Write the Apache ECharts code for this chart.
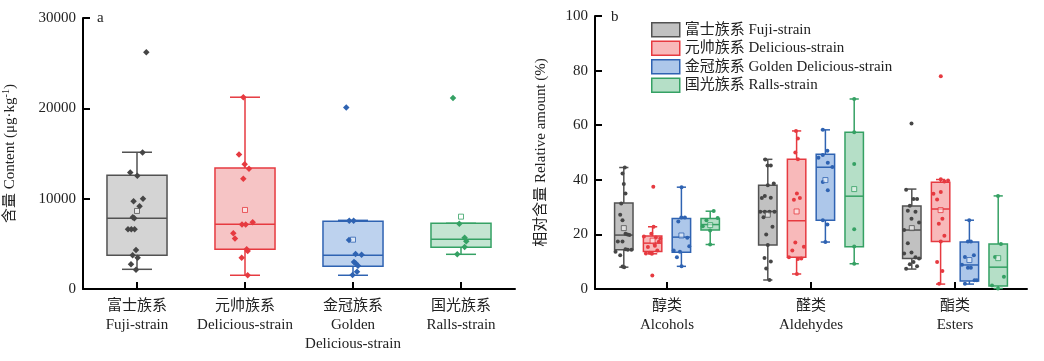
<!DOCTYPE html>
<html><head><meta charset="utf-8">
<script src="https://cdn.jsdelivr.net/npm/echarts@6/dist/echarts.min.js"></script>
<style>html,body{margin:0;padding:0;background:#fff}#c{width:1044px;height:361px}</style>
</head><body><div id="c"></div>
<script>
// ---------- labels ----------
const strainNames = ['富士族系 Fuji-strain', '元帅族系 Delicious-strain', '金冠族系 Golden Delicious-strain', '国光族系 Ralls-strain'];
const strainLabels = ['富士族系\nFuji-strain', '元帅族系\nDelicious-strain', '金冠族系\nGolden\nDelicious-strain', '国光族系\nRalls-strain'];
const classLabels = ['醇类\nAlcohols', '醛类\nAldehydes', '酯类\nEsters'];

// ---------- panel a: content (µg/kg), box = [min, Q1, median, Q3, max] ----------
const contentBox = [
  [2180, 3730, 7830, 12600, 15140],
  [1520, 4400, 7160, 13400, 21230],
  [1520, 2510, 3730, 7500, 7600],
  [3840, 4620, 5500, 7270, 7270]
];
const contentMean = [8640, 8750, 5460, 8010];
const contentPoints = [
  [26200, 15100, 12900, 12550, 10000, 9710, 9160, 7940, 7830, 6610, 6610, 6610, 4320, 3730, 3470, 2730, 2140],
  [21230, 14900, 13800, 13300, 12200, 7380, 7150, 7150, 6180, 5580, 4400, 4200, 3470, 1520],
  [20080, 7560, 7560, 5430, 3880, 3800, 2990, 2850, 2580, 1920, 1550],
  [21150, 7230, 5680, 5280, 4650, 3840]
];
// horizontal jitter of each point, in box widths
const contentJitter = [
  [0.155, 0.093, -0.112, 0.005, 0.1, -0.057, 0.043, -0.07, -0.045, -0.15, -0.095, -0.04, -0.017, -0.073, 0.01, -0.1, -0.017],
  [-0.028, -0.1, -0.005, 0.067, -0.028, 0.128, -0.05, 0.012, -0.195, -0.167, 0.028, 0.045, -0.055, 0.045],
  [-0.112, -0.062, 0.01, -0.067, 0.043, 0.143, 0.017, 0.043, 0.083, 0.067, -0.007],
  [-0.133, -0.028, 0.06, 0.088, 0.06, -0.062]
];

// ---------- panel b: relative amount (%), per class, one entry per strain ----------
const alcoholsBox = [[8.0, 14.4, 19.75, 31.5, 44.5], [12.9, 13.75, 16.8, 19.4, 22.8], [8.3, 13.5, 19.0, 25.8, 37.3], [16.3, 21.6, 23.6, 25.8, 28.5]];
const aldehydesBox = [[3.3, 16.1, 28.4, 38.0, 47.5], [5.5, 11.6, 25.0, 47.5, 57.9], [17.2, 25.2, 44.6, 49.4, 58.3], [9.25, 15.5, 34.0, 57.4, 69.6]];
const estersBox = [[7.3, 11.2, 21.6, 30.4, 36.6], [1.8, 17.4, 29.3, 39.1, 40.1], [1.8, 2.9, 8.8, 17.2, 25.2], [0.2, 1.1, 8.0, 16.5, 34.1]];
const alcoholsMean = [22.3, 17.7, 19.6, 23.4];
const aldehydesMean = [27.2, 28.4, 39.9, 36.6];
const estersMean = [22.3, 28.9, 10.6, 11.3];
const alcoholsPoints = [
  [44.5, 42.3, 38.5, 35.0, 31.3, 27.2, 25.2, 20.2, 20.0, 19.8, 17.4, 17.4, 14.6, 14.4, 14.4, 13.6, 12.4, 8.2, 8.0],
  [37.5, 22.8, 20.2, 19.2, 18.9, 18.5, 17.3, 16.5, 15.8, 15.4, 14.1, 13.3, 13.0, 12.9, 4.9],
  [37.3, 26.2, 26.2, 24.7, 18.8, 15.7, 14.1, 13.6, 11.6, 8.3],
  [28.6, 26.0, 25.2, 23.0, 21.4, 16.3]
];
const alcoholsJitter = [
  [0.054, -0.07, 0, 0.092, -0.14, -0.195, -0.07, 0.092, 0.2, 0.308, -0.324, -0.07, 0.092, 0.216, 0.416, -0.449, -0.195, -0.07, 0.022],
  [0.038, 0.054, -0.07, -0.47, 0.178, 0.416, 0.34, 0.108, 0.124, -0.254, 0.254, -0.162, -0.362, -0.038, -0.016],
  [0.01, -0.005, 0.19, -0.168, 0.32, 0.427, -0.42, -0.08, -0.243, 0.01],
  [0.19, 0.405, -0.205, -0.405, -0.005, -0.005]
];
const aldehydesPoints = [
  [47.4, 45.2, 45.2, 38.6, 38.0, 34.1, 33.4, 33.3, 28.3, 28.3, 28.3, 28.3, 26.3, 22.8, 20.0, 16.1, 11.4, 10.1, 7.5, 3.3],
  [57.9, 55.1, 50.0, 47.5, 35.0, 33.3, 32.7, 17.0, 15.5, 14.1, 11.6, 11.2, 11.0, 5.5],
  [58.3, 50.6, 49.1, 48.1, 46.2, 44.7, 39.2, 36.2, 25.2, 23.6, 17.2],
  [69.6, 57.4, 45.8, 21.9, 15.6, 9.25]
];
const aldehydesJitter = [
  [-0.14, -0.016, 0.162, 0.324, 0, -0.162, 0.162, -0.324, -0.41, -0.162, 0.092, 0.362, -0.232, 0.254, -0.086, 0, -0.178, 0.162, -0.086, 0.092],
  [-0.032, 0.07, -0.07, 0.07, 0.016, 0.178, -0.146, -0.07, 0.395, -0.232, -0.416, 0.254, 0.07, 0.016],
  [-0.14, 0.108, -0.14, -0.378, 0.13, 0.378, -0.14, 0.13, -0.14, 0.108, 0],
  [0, 0, 0, 0, 0, 0]
];
const estersPoints = [
  [60.6, 36.4, 33.0, 33.0, 30.5, 28.7, 28.3, 25.7, 24.4, 21.6, 16.8, 13.4, 13.0, 11.6, 11.2, 9.9, 9.1, 8.3, 7.4],
  [77.9, 40.2, 39.7, 39.4, 35.5, 34.9, 32.8, 25.7, 23.9, 19.5, 17.4, 9.9, 6.6, 1.9],
  [25.2, 17.4, 17.4, 12.4, 11.7, 8.9, 7.8, 7.8, 3.2, 3.2, 1.9],
  [34.1, 16.5, 11.7, 4.5, 1.3, 0.2]
];
const estersJitter = [
  [-0.016, -0.308, 0.092, 0.286, -0.108, -0.216, 0.2, -0.016, 0.395, -0.416, -0.216, -0.016, -0.416, 0.2, 0.395, 0.092, -0.108, 0.286, -0.308],
  [0.01, 0.01, 0.405, 0.205, 0.01, -0.39, -0.19, 0.097, -0.097, 0.205, 0.01, -0.19, 0.097, -0.08],
  [-0.01, -0.08, 0.08, 0.243, -0.243, -0.405, -0.08, 0.08, 0.28, 0.405, -0.243],
  [-0.01, 0.15, -0.17, 0.31, -0.335, -0.01]
];

// ---------- styles ----------
const strokeColors = ['#525252', '#e63a40', '#2f63b2', '#35a164'];
const pointColors = ['#464646', '#e63a40', '#2f63b2', '#35a164'];
const fillA = ['#d4d4d4', '#f6c4c5', '#bdd2ee', '#c4e5d2'];
const fillB = ['#c1c1c1', '#f8b9ba', '#adc7ea', '#b5dfc7'];
const FONT = "'Liberation Serif', 'Noto Sans CJK SC', serif";
const BOXW_A = 0.556;
const BOXW_B = 0.128;
const OFF_B = [-0.3, -0.1, 0.1, 0.3];

function makeRender(boxW, fill, stroke) {
  return function (params, api) {
    const x = api.value(0);
    const ys = [1, 2, 3, 4, 5].map(i => api.coord([x, api.value(i)])[1]);
    const cx = api.coord([x, api.value(1)])[0];
    const w = api.size([boxW, 0])[0];
    const hw = w / 2, cw = w / 4;
    const ls = { stroke: stroke, lineWidth: 1.5, fill: null };
    return {
      type: 'group', children: [
        { type: 'line', shape: { x1: cx, y1: ys[3], x2: cx, y2: ys[4] }, style: ls },
        { type: 'line', shape: { x1: cx, y1: ys[0], x2: cx, y2: ys[1] }, style: ls },
        { type: 'line', shape: { x1: cx - cw, y1: ys[4], x2: cx + cw, y2: ys[4] }, style: ls },
        { type: 'line', shape: { x1: cx - cw, y1: ys[0], x2: cx + cw, y2: ys[0] }, style: ls },
        { type: 'rect', shape: { x: cx - hw, y: ys[3], width: w, height: ys[1] - ys[3] }, style: { fill: fill, stroke: stroke, lineWidth: 1.5 } },
        { type: 'line', shape: { x1: cx - hw, y1: ys[2], x2: cx + hw, y2: ys[2] }, style: ls }
      ]
    };
  };
}

const series = [];
// panel a
for (let s = 0; s < 4; s++) {
  series.push({
    type: 'custom', name: strainNames[s], xAxisIndex: 1, yAxisIndex: 0, z: 2,
    renderItem: makeRender(BOXW_A, fillA[s], strokeColors[s]),
    encode: { x: 0, y: [1, 2, 3, 4, 5] },
    data: [[s].concat(contentBox[s])]
  });
  series.push({
    type: 'scatter', name: strainNames[s], xAxisIndex: 1, yAxisIndex: 0, z: 3,
    symbol: 'diamond', symbolSize: 6.5, itemStyle: { color: pointColors[s], opacity: 1 },
    data: contentPoints[s].map((v, k) => [s + contentJitter[s][k] * BOXW_A, v])
  });
  series.push({
    type: 'scatter', name: strainNames[s], xAxisIndex: 1, yAxisIndex: 0, z: 4,
    symbol: 'rect', symbolSize: 5,
    itemStyle: { color: 'rgba(255,255,255,0.6)', borderColor: strokeColors[s], borderWidth: 1 },
    data: [[s, contentMean[s]]]
  });
}
// panel b
const classBoxes = [alcoholsBox, aldehydesBox, estersBox];
const classMeans = [alcoholsMean, aldehydesMean, estersMean];
const classPoints = [alcoholsPoints, aldehydesPoints, estersPoints];
const classJitter = [alcoholsJitter, aldehydesJitter, estersJitter];
for (let s = 0; s < 4; s++) {
  const boxData = [], ptData = [], meanData = [];
  for (let c = 0; c < 3; c++) {
    const x = c + OFF_B[s];
    boxData.push([x].concat(classBoxes[c][s]));
    meanData.push([x, classMeans[c][s]]);
    classPoints[c][s].forEach((v, k) => ptData.push([x + classJitter[c][s][k] * BOXW_B, v]));
  }
  series.push({
    type: 'custom', name: strainNames[s], xAxisIndex: 3, yAxisIndex: 1, z: 2,
    renderItem: makeRender(BOXW_B, fillB[s], strokeColors[s]),
    encode: { x: 0, y: [1, 2, 3, 4, 5] },
    data: boxData
  });
  series.push({
    type: 'scatter', name: strainNames[s], xAxisIndex: 3, yAxisIndex: 1, z: 3,
    symbol: 'circle', symbolSize: 4, itemStyle: { color: pointColors[s], opacity: 1 },
    data: ptData
  });
  series.push({
    type: 'scatter', name: strainNames[s], xAxisIndex: 3, yAxisIndex: 1, z: 4,
    symbol: 'rect', symbolSize: 5,
    itemStyle: { color: 'rgba(255,255,255,0.6)', borderColor: strokeColors[s], borderWidth: 1 },
    data: meanData
  });
}

const axisLine = { show: true, onZero: false, lineStyle: { color: '#000', width: 2 } };
const axisTick = { show: true, inside: true, length: 7, lineStyle: { color: '#000', width: 2 } };
const labelStyle = { fontFamily: FONT, fontSize: 15, color: '#222' };

const option = {
  animation: false,
  backgroundColor: '#fff',
  grid: [
    { left: 83, width: 432, top: 18, bottom: 72 },
    { left: 595, width: 432, top: 16, bottom: 72 }
  ],
  legend: {
    orient: 'vertical', left: 646, top: 17, itemWidth: 28, itemHeight: 14, itemGap: 3,
    textStyle: { fontFamily: FONT, fontSize: 15, color: '#222' },
    data: strainNames.map((n, i) => ({ name: n, icon: 'rect', itemStyle: { color: fillB[i], borderColor: strokeColors[i], borderWidth: 1.5 } })),
    selectedMode: false
  },
  xAxis: [
    { type: 'category', gridIndex: 0, data: strainLabels, axisLine, axisTick: Object.assign({ alignWithLabel: true }, axisTick),
      axisLabel: Object.assign({ interval: 0, margin: 8, lineHeight: 19 }, labelStyle), splitLine: { show: false } },
    { type: 'value', gridIndex: 0, min: -0.5, max: 3.5, show: false, axisLine: { onZero: false } },
    { type: 'category', gridIndex: 1, data: classLabels, axisLine, axisTick: Object.assign({ alignWithLabel: true }, axisTick),
      axisLabel: Object.assign({ interval: 0, margin: 8, lineHeight: 19 }, labelStyle), splitLine: { show: false } },
    { type: 'value', gridIndex: 1, min: -0.5, max: 2.5, show: false, axisLine: { onZero: false } }
  ],
  yAxis: [
    { type: 'value', gridIndex: 0, min: 0, max: 30000, interval: 10000, axisLine, axisTick, splitLine: { show: false },
      axisLabel: Object.assign({ margin: 7, formatter: v => String(v) }, labelStyle),
      name: '{t|含量 Content (μg·kg}{s|-1}{t|)}', nameLocation: 'middle', nameGap: 64, nameRotate: 90,
      nameTextStyle: { rich: { t: { fontFamily: FONT, fontSize: 15, color: '#222', lineHeight: 18 }, s: { fontFamily: FONT, fontSize: 10, color: '#222', verticalAlign: 'top', lineHeight: 18 } } } },
    { type: 'value', gridIndex: 1, min: 0, max: 100, interval: 20, axisLine, axisTick, splitLine: { show: false },
      axisLabel: Object.assign({ margin: 7 }, labelStyle),
      name: '相对含量 Relative amount (%)', nameLocation: 'middle', nameGap: 46, nameRotate: 90,
      nameTextStyle: { fontFamily: FONT, fontSize: 15, color: '#222' } }
  ],
  graphic: [
    { type: 'text', left: 97, top: 11, style: { text: 'a', font: "15px 'Liberation Serif'", fill: '#222' } },
    { type: 'text', left: 611, top: 10, style: { text: 'b', font: "15px 'Liberation Serif'", fill: '#222' } }
  ],
  series
};
const chart = echarts.init(document.getElementById('c'), null, { renderer: 'canvas' });
chart.setOption(option);
</script></body></html>
